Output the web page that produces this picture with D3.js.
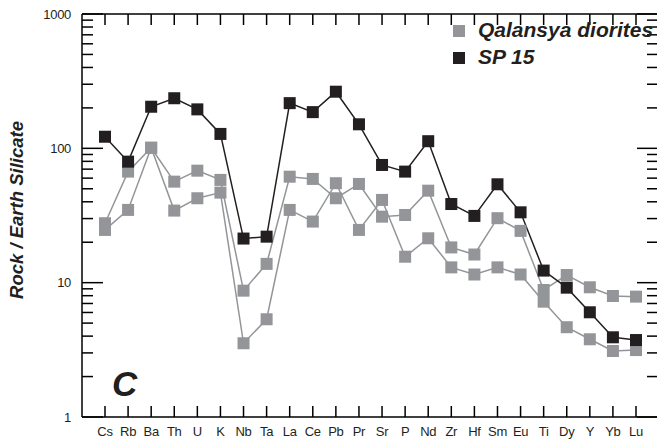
<!DOCTYPE html>
<html>
<head>
<meta charset="utf-8">
<script src="https://cdn.jsdelivr.net/npm/d3@7"></script>
<style>
  body { margin: 0; background: #fff; }
  text { font-family: "Liberation Sans", Arial, sans-serif; }
</style>
</head>
<body>
<div id="chart"></div>
<script>
// Element order along x axis
const elements = ["Cs","Rb","Ba","Th","U","K","Nb","Ta","La","Ce","Pb","Pr","Sr","P","Nd","Zr","Hf","Sm","Eu","Ti","Dy","Y","Yb","Lu"];

// Qalansya diorites (two samples)
const qalansya1 = [27.7,67.1,101,56.5,68.2,58.2,8.72,13.8,61.5,59.2,42.5,54.3,31.0,31.9,48.4,18.3,16.2,30.2,24.3,8.82,11.4,9.24,7.96,7.87];
const qalansya2 = [24.7,34.8,101,34.4,42.5,46.8,3.54,5.34,34.8,28.5,55.0,24.7,41.3,15.6,21.4,13.0,11.5,13.0,11.5,7.22,4.66,3.79,3.10,3.15];

// SP 15
const sp15 = [122,79.6,204,236,195,128,21.3,22.0,217,186,264,151,75.2,67.1,113,38.5,31.4,54.0,33.4,12.3,9.18,6.02,3.92,3.74];

const yTicks = [1, 10, 100, 1000];

const W = 657, H = 445;
const pLeft = 82, pRight = 658, pTop = 14, pBottom = 417;
const grey = "#939598", dark = "#231f20";

const svg = d3.select("#chart").append("svg")
  .attr("width", W)
  .attr("height", H);

const x = d3.scalePoint()
  .domain(elements)
  .range([105, 636]);

const y = d3.scaleLog()
  .domain([1, 1000])
  .range([pBottom, pTop]);

// minor ticks 2..9 in every decade
const minor = [];
[1, 10, 100].forEach(d => { for (let k = 2; k <= 9; k++) minor.push(d * k); });

const frame = svg.append("g").attr("stroke", "#000").attr("stroke-width", 1.5);

// left and right axes with inward ticks
[[pLeft, 1], [pRight, -1]].forEach(([ax, dir]) => {
  frame.append("line").attr("x1", ax).attr("x2", ax).attr("y1", pTop).attr("y2", pBottom);
  frame.selectAll(null).data(yTicks).enter().append("line")
    .attr("x1", ax).attr("x2", ax + dir * 21)
    .attr("y1", d => y(d)).attr("y2", d => y(d));
  frame.selectAll(null).data(minor).enter().append("line")
    .attr("x1", ax).attr("x2", ax + dir * 11)
    .attr("y1", d => y(d)).attr("y2", d => y(d));
});

// top and bottom axes with inward ticks
[[pBottom, -1], [pTop, 1]].forEach(([ay, dir]) => {
  frame.append("line").attr("x1", pLeft).attr("x2", pRight).attr("y1", ay).attr("y2", ay);
  frame.selectAll(null).data(elements).enter().append("line")
    .attr("x1", d => x(d)).attr("x2", d => x(d))
    .attr("y1", ay).attr("y2", ay + dir * 11);
});

// y tick labels
svg.selectAll(".ylab").data(yTicks).enter().append("text")
  .attr("class", "ylab")
  .attr("x", 71)
  .attr("y", d => y(d))
  .attr("dy", "0.35em")
  .attr("text-anchor", "end")
  .style("font-size", "13px")
  .style("letter-spacing", "-0.3px")
  .attr("fill", dark)
  .text(d => d);

// x tick labels
svg.selectAll(".xlab").data(elements).enter().append("text")
  .attr("class", "xlab")
  .attr("x", d => x(d))
  .attr("y", 436)
  .attr("text-anchor", "middle")
  .style("font-size", "13px")
  .style("letter-spacing", "-0.3px")
  .attr("fill", dark)
  .text(d => d);

// y axis title
svg.append("text")
  .attr("transform", "translate(23,210) rotate(-90)")
  .attr("text-anchor", "middle")
  .style("font-size", "18.5px")
  .style("font-weight", "bold")
  .style("font-style", "italic")
  .attr("fill", dark)
  .text("Rock / Earth Silicate");

// panel letter
svg.append("text")
  .attr("x", 112)
  .attr("y", 396)
  .style("font-size", "35px")
  .style("font-weight", "bold")
  .style("font-style", "italic")
  .attr("fill", dark)
  .text("C");

const line = d3.line()
  .x((d, i) => x(elements[i]))
  .y(d => y(d));

const series = [
  {values: qalansya1, color: grey},
  {values: qalansya2, color: grey},
  {values: sp15, color: dark}
];

const sz = 12;
series.forEach(s => {
  svg.append("path")
    .datum(s.values)
    .attr("fill", "none")
    .attr("stroke", s.color)
    .attr("stroke-width", 1.5)
    .attr("d", line);
});
series.forEach(s => {
  svg.selectAll(null).data(s.values).enter().append("rect")
    .attr("x", (d, i) => x(elements[i]) - sz / 2)
    .attr("y", d => y(d) - sz / 2)
    .attr("width", sz)
    .attr("height", sz)
    .attr("fill", s.color);
});

// legend
const legend = svg.append("g");
[["Qalansya diorites", grey, 31], ["SP 15", dark, 58]].forEach(([label, color, ly]) => {
  legend.append("rect")
    .attr("x", 453).attr("y", ly - 6)
    .attr("width", 12).attr("height", 12)
    .attr("fill", color);
  legend.append("text")
    .attr("x", 478).attr("y", ly + 6)
    .style("font-size", "21px")
    .style("font-weight", "bold")
    .style("font-style", "italic")
    .attr("fill", dark)
    .text(label);
});
</script>
</body>
</html>
